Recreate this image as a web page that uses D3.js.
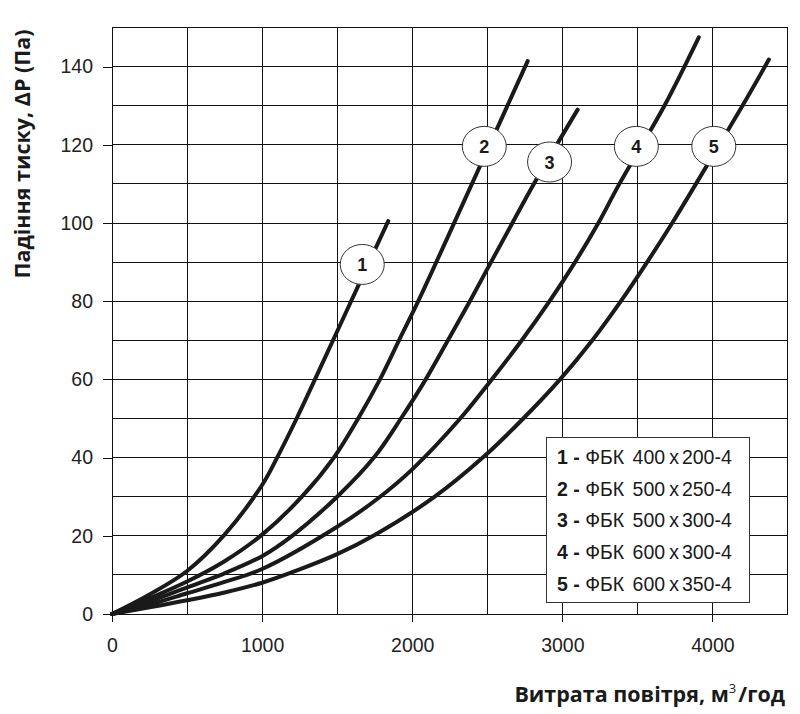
<!DOCTYPE html>
<html><head><meta charset="utf-8">
<script src="https://cdn.jsdelivr.net/npm/d3@7"></script>
<style>body{margin:0;background:#fff}svg{display:block}</style>
</head><body><svg id="c" width="800" height="714"></svg>
<script>
// ---- data ----
const xTicks = [0, 1000, 2000, 3000, 4000];
const yTicks = [0, 20, 40, 60, 80, 100, 120, 140];
const seriesIds = [1, 2, 3, 4, 5];
const seriesNames = ["ФБК 400x200-4", "ФБК 500x250-4", "ФБК 500x300-4", "ФБК 600x300-4", "ФБК 600x350-4"];

const flow1 = [0, 250, 500, 750, 1000, 1100, 1230, 1535, 1840];
const drop1 = [0, 5, 11, 20.3, 33, 40, 50, 75.2, 100.5];

const flow2 = [0, 250, 500, 750, 1000, 1265, 1478, 1640, 1785, 1912, 2040, 2400, 2769];
const drop2 = [0, 4, 8.3, 13.5, 20.3, 30, 40, 50, 60, 70, 80, 110.2, 141.4];

const flow3 = [0, 250, 500, 750, 1000, 1200, 1500, 1745, 1925, 2090, 2238, 2384, 2525, 2667, 2810, 3102];
const drop3 = [0, 3.2, 6.8, 10.4, 14.8, 20, 30, 40, 50, 60, 70, 80, 90, 100, 110, 129];

const flow4 = [0, 250, 500, 750, 1000, 1500, 1773, 2000, 2320, 2530, 2730, 2915, 3085, 3240, 3380, 3680, 3909];
const drop4 = [0, 2.4, 5.3, 8.2, 11.5, 22.3, 29.6, 37, 50, 60, 70, 80, 90, 100, 110, 130, 147.5];

const flow5 = [0, 250, 500, 750, 1000, 1250, 1500, 1750, 2150, 2470, 2740, 2985, 3200, 3390, 3565, 3732, 3890, 4200, 4376];
const drop5 = [0, 1.7, 3.5, 5.5, 8, 11.4, 15.3, 20.2, 30, 40, 50, 60, 70, 80, 90, 100, 110, 130, 141.8];

const labelFlow = [1667, 2480, 2915, 3493, 4009];
const labelDrop = [89.4, 119.6, 115.6, 119.6, 119.6];

const flows = [flow1, flow2, flow3, flow4, flow5];
const drops = [drop1, drop2, drop3, drop4, drop5];

// ---- chart ----
const svg = d3.select("#c");
const L = 112, R = 787.5, T = 27.5, B = 614;
const x = d3.scaleLinear().domain([0, 4500]).range([L, R]);
const y = d3.scaleLinear().domain([0, 150]).range([B, T]);
const numFont = "Liberation Sans, Arial, sans-serif";

const grid = svg.append("g").attr("stroke", "#111").attr("stroke-width", 1).attr("shape-rendering", "crispEdges");
d3.range(0, 4501, 500).forEach(v => grid.append("line").attr("x1", x(v)).attr("x2", x(v)).attr("y1", T).attr("y2", B));
d3.range(0, 151, 10).forEach(v => grid.append("line").attr("x1", L).attr("x2", R).attr("y1", y(v)).attr("y2", y(v)));

const xAxis = svg.append("g").attr("transform", `translate(0,${B})`)
  .call(d3.axisBottom(x).tickValues(xTicks).tickSize(8).tickPadding(16).tickFormat(d3.format("d")));
const yAxis = svg.append("g").attr("transform", `translate(${L},0)`)
  .call(d3.axisLeft(y).tickValues(yTicks).tickSize(9).tickPadding(10).tickFormat(d3.format("d")));
[xAxis, yAxis].forEach(a => {
  a.select(".domain").remove();
  a.selectAll("line").attr("stroke", "#111").attr("stroke-width", 1).attr("shape-rendering", "crispEdges");
  a.selectAll("text").attr("font-family", numFont).attr("font-size", 19.5).attr("fill", "#222");
});

const line = d3.line().x(d => x(d[0])).y(d => y(d[1])).curve(d3.curveCatmullRom.alpha(0.5));
flows.forEach((f, i) => {
  const pts = f.map((q, j) => [q, drops[i][j]]);
  svg.append("path").attr("d", line(pts)).attr("fill", "none")
    .attr("stroke", "#1a1a1a").attr("stroke-width", 4).attr("stroke-linecap", "round");
});

// curve labels
const lab = svg.append("g");
seriesIds.forEach((id, i) => {
  const cx = x(labelFlow[i]), cy = y(labelDrop[i]);
  lab.append("ellipse").attr("cx", cx).attr("cy", cy).attr("rx", 22).attr("ry", 20)
    .attr("fill", "#fff").attr("stroke", "#333").attr("stroke-width", 1);
  lab.append("text").attr("x", cx).attr("y", cy + 6.5).attr("text-anchor", "middle")
    .attr("font-family", numFont).attr("font-weight", "bold")
    .attr("font-size", 18).attr("fill", "#1a1a1a").text(id);
});

// legend
const lg = svg.append("g");
lg.append("rect").attr("x", 546.5).attr("y", 437.5).attr("width", 203).attr("height", 165)
  .attr("fill", "#fff").attr("stroke", "#333").attr("stroke-width", 1);
seriesIds.forEach((id, i) => {
  const t = lg.append("text").attr("x", 557).attr("y", 464 + i * 31.7)
    .attr("font-family", numFont).attr("font-size", 19.5).attr("fill", "#1a1a1a");
  t.append("tspan").attr("font-weight", "bold").text(id + " - ");
  const name = seriesNames[i].split(" ");
  const parts = name[1].split("x");
  t.append("tspan").text(name[0] + " ");
  t.append("tspan").attr("dx", 3).text(parts[0]);
  t.append("tspan").attr("dx", 4).text("x");
  t.append("tspan").attr("dx", 3).text(parts[1]);
});

// axis titles
svg.append("text").attr("transform", "translate(30,154) rotate(-90)").attr("text-anchor", "middle")
  .attr("font-family", "Open Sans, sans-serif").attr("font-weight", "bold").attr("font-size", 21.5)
  .attr("fill", "#1a1a1a").text("Падіння тиску, ΔP (Па)");
const xt = svg.append("text").attr("x", 785).attr("y", 702).attr("text-anchor", "end")
  .attr("font-family", "Open Sans, sans-serif").attr("font-weight", "bold").attr("font-size", 21.5).attr("fill", "#1a1a1a");
xt.append("tspan").text("Витрата повітря, м");
xt.append("tspan").attr("dy", -9).attr("font-size", 13).attr("font-weight", "normal").text("3");
xt.append("tspan").attr("dy", 9).attr("dx", 2).text("/год");
</script></body></html>
